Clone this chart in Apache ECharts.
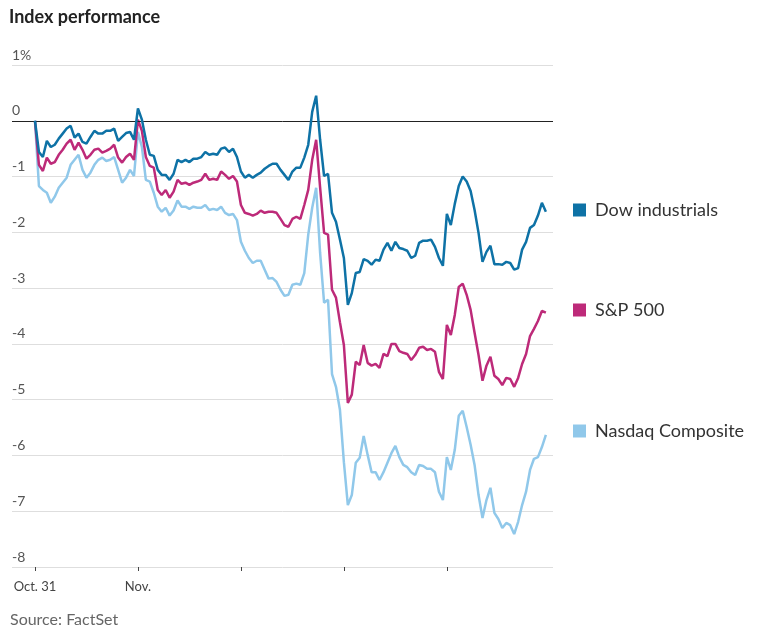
<!DOCTYPE html>
<html>
<head>
<meta charset="utf-8">
<script src="https://cdn.jsdelivr.net/npm/echarts@6/dist/echarts.min.js"></script>
<style>
html,body{margin:0;padding:0;background:#fff;}
#chart{width:758px;height:639px;}
</style>
</head>
<body>
<div id="chart"></div>
<script>
// 15-minute slots; 26 slots per trading day, slot 0 = Oct. 31 open
const dayStartSlots = [0, 26, 52, 78, 104];
const dayLabels = ['Oct. 31', 'Nov.', '', '', ''];
const yTicks = [1, 0, -1, -2, -3, -4, -5, -6, -7, -8];

const dow = [0,-0.56,-0.65,-0.36,-0.47,-0.43,-0.32,-0.23,-0.14,-0.09,-0.30,-0.23,-0.38,-0.41,-0.29,-0.18,-0.23,-0.23,-0.18,-0.18,-0.14,-0.36,-0.29,-0.22,-0.20,-0.34,
0.22,0.02,-0.34,-0.61,-0.63,-0.88,-0.97,-0.97,-1.06,-0.95,-0.70,-0.74,-0.70,-0.74,-0.68,-0.68,-0.65,-0.56,-0.61,-0.59,-0.61,-0.50,-0.48,-0.56,-0.50,-0.65,
-0.91,-1.02,-0.97,-1.02,-0.97,-0.93,-0.86,-0.81,-0.77,-0.77,-0.88,-0.97,-1.06,-0.91,-0.84,-0.84,-0.66,-0.43,0.16,0.45,-0.34,-0.99,-0.95,-1.65,-1.81,-2.13,
-2.46,-3.30,-3.09,-2.73,-2.71,-2.48,-2.51,-2.58,-2.49,-2.51,-2.31,-2.19,-2.33,-2.17,-2.28,-2.30,-2.33,-2.46,-2.42,-2.19,-2.15,-2.15,-2.13,-2.26,-2.46,-2.60,
-1.67,-1.87,-1.49,-1.17,-1.00,-1.09,-1.26,-1.60,-2.01,-2.53,-2.35,-2.24,-2.57,-2.57,-2.58,-2.53,-2.55,-2.67,-2.64,-2.31,-2.17,-1.92,-1.87,-1.70,-1.47,-1.63];

const sp500 = [0,-0.79,-0.90,-0.66,-0.77,-0.74,-0.61,-0.52,-0.41,-0.34,-0.52,-0.39,-0.52,-0.68,-0.61,-0.52,-0.50,-0.57,-0.54,-0.50,-0.43,-0.66,-0.75,-0.65,-0.59,-0.70,
0.02,-0.18,-0.65,-0.81,-0.84,-1.24,-1.33,-1.24,-1.38,-1.27,-1.06,-1.13,-1.11,-1.15,-1.11,-1.09,-1.06,-0.95,-1.06,-1.04,-1.06,-0.91,-0.97,-1.04,-0.99,-1.09,
-1.51,-1.65,-1.67,-1.70,-1.67,-1.61,-1.65,-1.63,-1.63,-1.65,-1.76,-1.87,-1.90,-1.76,-1.72,-1.76,-1.51,-1.24,-0.70,-0.34,-1.20,-2.01,-2.04,-3.03,-3.17,-3.61,
-4.02,-5.06,-4.91,-4.32,-4.38,-4.02,-4.34,-4.39,-4.36,-4.43,-4.18,-4.22,-4.00,-4.00,-4.13,-4.16,-4.18,-4.29,-4.20,-4.07,-4.05,-4.11,-4.09,-4.14,-4.50,-4.63,
-3.66,-3.84,-3.48,-2.98,-2.92,-3.12,-3.39,-3.80,-4.20,-4.66,-4.39,-4.23,-4.57,-4.63,-4.74,-4.61,-4.63,-4.77,-4.61,-4.36,-4.18,-3.86,-3.73,-3.59,-3.41,-3.44];

const nasdaq = [0,-1.17,-1.24,-1.29,-1.47,-1.36,-1.20,-1.11,-1.02,-0.79,-0.70,-0.61,-0.88,-1.02,-0.93,-0.79,-0.70,-0.66,-0.72,-0.70,-0.65,-0.88,-1.11,-1.02,-0.88,-0.99,
-0.20,-0.47,-1.06,-1.09,-1.29,-1.54,-1.63,-1.56,-1.70,-1.61,-1.43,-1.54,-1.54,-1.58,-1.54,-1.56,-1.56,-1.51,-1.60,-1.58,-1.60,-1.54,-1.65,-1.69,-1.67,-1.78,
-2.17,-2.33,-2.46,-2.55,-2.51,-2.51,-2.67,-2.83,-2.82,-2.89,-3.03,-3.14,-3.12,-2.94,-2.92,-2.94,-2.73,-2.04,-1.56,-1.20,-2.37,-3.26,-3.21,-4.54,-4.77,-5.18,
-6.12,-6.89,-6.71,-6.13,-6.04,-5.65,-5.99,-6.30,-6.30,-6.44,-6.30,-6.13,-5.96,-5.83,-6.03,-6.17,-6.21,-6.30,-6.35,-6.17,-6.19,-6.24,-6.24,-6.30,-6.65,-6.80,
-6.03,-6.26,-5.90,-5.29,-5.20,-5.49,-5.81,-6.17,-6.71,-7.12,-6.80,-6.58,-7.03,-7.14,-7.30,-7.21,-7.25,-7.41,-7.19,-6.89,-6.65,-6.26,-6.06,-6.03,-5.85,-5.63];

const seriesNames = ['Dow industrials', 'S&P 500', 'Nasdaq Composite'];
const seriesColors = ['#0e72a6', '#bd2a79', '#90c8ea'];
const seriesValues = [dow, sp500, nasdaq];

const font = 'Lato, "Noto Sans", sans-serif';
const chart = echarts.init(document.getElementById('chart'));

const toPairs = arr => arr.map((v, i) => [i, v]);

const series = [2, 1, 0].map(k => ({
  name: seriesNames[k],
  type: 'line',
  data: toPairs(seriesValues[k]),
  showSymbol: false,
  symbol: 'none',
  lineStyle: { color: seriesColors[k], width: 2.5 },
  itemStyle: { color: seriesColors[k] },
  z: 3 + (2 - k),
  animation: false
}));
series.push({
  type: 'line',
  data: [],
  silent: true,
  markLine: {
    silent: true,
    symbol: 'none',
    label: { show: false },
    lineStyle: { color: '#222', width: 1, type: 'solid' },
    data: [{ yAxis: 0 }]
  },
  z: 2
});

const legendTops = [196, 296, 417];

chart.setOption({
  animation: false,
  backgroundColor: '#fff',
  textStyle: { fontFamily: font },
  title: [
    { text: 'Index performance', left: 4, top: 3,
      textStyle: { fontFamily: font, fontSize: 18, fontWeight: 'bold', color: '#222' } },
    { text: 'Source: FactSet', left: 5, top: 607,
      textStyle: { fontFamily: font, fontSize: 16, fontWeight: 'normal', color: '#666' } }
  ],
  legend: seriesNames.map((n, k) => ({
    data: [n], left: 568, top: legendTops[k], orient: 'vertical',
    icon: 'rect', itemWidth: 13, itemHeight: 13, itemGap: 8,
    selectedMode: false,
    textStyle: { fontFamily: font, fontSize: 18, color: '#333', padding: [0, 0, 0, 4] }
  })),
  grid: { left: 12, right: 205, top: 65, bottom: 72, outerBoundsMode: 'none', containLabel: false },
  xAxis: {
    type: 'value',
    min: -5.8,
    max: 130.8,
    axisLine: { show: false, onZero: false },
    splitLine: { show: false },
    axisTick: { show: true, length: 4, lineStyle: { color: '#444' }, customValues: dayStartSlots },
    axisLabel: {
      show: true,
      customValues: [dayStartSlots[0], dayStartSlots[1]],
      formatter: v => dayLabels[dayStartSlots.indexOf(v)] || '',
      color: '#444', fontSize: 13, margin: 13, fontFamily: font
    }
  },
  yAxis: {
    type: 'value',
    min: -8, max: 1, interval: 1,
    axisLine: { show: false },
    axisTick: { show: false },
    splitLine: { show: true, lineStyle: { color: '#dedede', width: 1 } },
    axisLabel: {
      inside: true, margin: 0,
      verticalAlign: 'bottom',
      padding: [0, 0, 3, 0],
      color: '#555', fontSize: 14, fontFamily: font,
      formatter: v => (v === yTicks[0] ? v + '%' : String(v))
    }
  },
  series: series
});
</script>
</body>
</html>
